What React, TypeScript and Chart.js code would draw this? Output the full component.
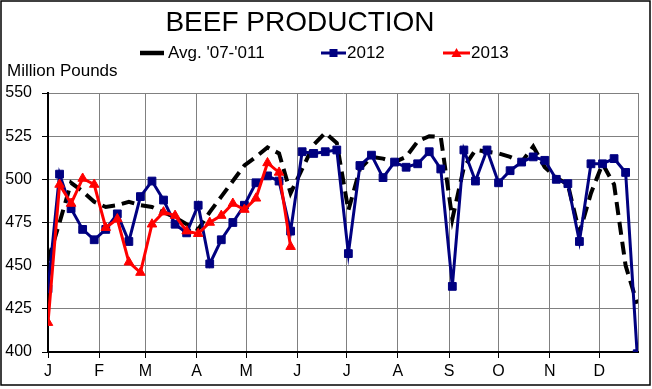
import React, { useEffect, useRef } from 'react';
import { Chart, registerables } from 'chart.js';

Chart.register(...registerables);

// ---- Data ----
const TITLE = 'BEEF PRODUCTION';
const Y_AXIS_TITLE = 'Million Pounds';
const MONTH_STARTS = [0, 31, 59, 90, 120, 151, 181, 212, 243, 273, 304, 334];
const MONTH_LABELS = ['J', 'F', 'M', 'A', 'M', 'J', 'J', 'A', 'S', 'O', 'N', 'D'];
const WEEK_DAYS = [
  0, 7, 14, 21, 28, 35, 42, 49, 56, 63, 70, 77, 84, 91, 98, 105, 112, 119, 126, 133,
  140, 147, 154, 161, 168, 175, 182, 189, 196, 203, 210, 217, 224, 231, 238, 245, 252,
  259, 266, 273, 280, 287, 294, 301, 308, 315, 322, 329, 336, 343, 350, 357,
];
const AVG_LABEL = "Avg. '07-'011";
const AVG_07_11 = [
  453, 475, 498, 493, 487, 484, 485, 487, 485, 484, 481, 478, 474, 471, 481, 490, 499,
  508, 513, 518.5, 515, 492, 506, 520, 527, 521, 482, 506, 513, 512, 510, 513, 522, 525,
  524.5, 477, 507, 517, 516, 515, 513, 510, 519, 507, 501, 497, 469, 492, 509, 497, 450, 428,
];
const LABEL_2012 = '2012';
const Y2012 = [
  436.6, 503, 483, 471, 465, 471, 480, 464, 490, 499, 488, 474, 469, 485, 451, 465, 475,
  485, 498, 502, 499, 470, 516, 515, 516, 517, 457, 508, 514, 501, 510, 507, 509, 516,
  506, 438, 517, 499, 517, 498, 505, 510, 513, 511, 500, 497.5, 464, 509, 509, 512, 504, 399,
];
const LABEL_2013 = '2013';
const Y2013 = [
  417, 497, 486, 500.5, 497, 472, 477, 452, 446, 474, 481, 479, 470, 468.5, 475, 479, 486,
  482.5, 489, 509.5, 504, 461,
];
const Y_MIN = 400;
const Y_MAX = 550;
const Y_STEP = 25;
const X_MAX = 357.5;

const FONT = "'Liberation Sans', Arial, Helvetica, sans-serif";
const NAVY = '#000080';
const RED = '#ff0000';

const toPoints = (vals: number[]) => vals.map((v, i) => ({ x: WEEK_DAYS[i], y: v }));

const headerPlugin = {
  id: 'header',
  afterDraw(chart: any) {
    const ctx = chart.ctx as CanvasRenderingContext2D;
    const ds = chart.data.datasets;
    ctx.save();
    // outer border
    ctx.strokeStyle = '#000';
    ctx.lineWidth = 1.5;
    ctx.strokeRect(1, 1, 649, 384);

    // title
    ctx.fillStyle = '#000';
    ctx.font = `28px ${FONT}`;
    ctx.textAlign = 'center';
    ctx.textBaseline = 'middle';
    ctx.fillText(TITLE, 300, 23);

    // legend
    const ly = 53;
    ctx.font = `17px ${FONT}`;
    ctx.textAlign = 'left';
    // avg
    const avg = ds.find((d: any) => d.label === AVG_LABEL);
    ctx.beginPath();
    ctx.moveTo(140, ly);
    ctx.lineTo(164, ly);
    ctx.lineWidth = 4.5;
    ctx.strokeStyle = avg.borderColor;
    ctx.stroke();
    ctx.fillStyle = '#000';
    ctx.fillText(avg.label, 168, ly);
    // 2012
    const b = ds.find((d: any) => d.label === LABEL_2012);
    ctx.beginPath();
    ctx.moveTo(321, ly);
    ctx.lineTo(346, ly);
    ctx.lineWidth = 3;
    ctx.strokeStyle = b.borderColor;
    ctx.stroke();
    ctx.fillStyle = b.borderColor;
    ctx.fillRect(333.5 - 4, ly - 4, 8, 8);
    ctx.fillStyle = '#000';
    ctx.fillText(b.label, 347, ly);
    // 2013
    const r = ds.find((d: any) => d.label === LABEL_2013);
    ctx.beginPath();
    ctx.moveTo(443, ly);
    ctx.lineTo(470, ly);
    ctx.lineWidth = 3;
    ctx.strokeStyle = r.borderColor;
    ctx.stroke();
    ctx.fillStyle = r.borderColor;
    ctx.beginPath();
    ctx.moveTo(456.5, ly - 5);
    ctx.lineTo(461.5, ly + 4);
    ctx.lineTo(451.5, ly + 4);
    ctx.closePath();
    ctx.fill();
    ctx.fillStyle = '#000';
    ctx.fillText(r.label, 471, ly);

    // y axis title
    ctx.font = `17px ${FONT}`;
    ctx.textAlign = 'left';
    ctx.fillText(Y_AXIS_TITLE, 7, 71);
    ctx.restore();
  },
};

export default function App() {
  const ref = useRef<HTMLCanvasElement>(null);

  useEffect(() => {
    if (!ref.current) return;
    const chart = new Chart(ref.current, {
      type: 'line',
      data: {
        datasets: [
          {
            label: LABEL_2013,
            data: toPoints(Y2013),
            borderColor: RED,
            backgroundColor: RED,
            borderWidth: 3,
            pointStyle: 'triangle',
            pointRadius: 5.5,
            pointBorderWidth: 1,
            pointBackgroundColor: RED,
            pointBorderColor: RED,
            tension: 0,
            order: 0,
          },
          {
            label: LABEL_2012,
            data: toPoints(Y2012),
            borderColor: NAVY,
            backgroundColor: NAVY,
            borderWidth: 3,
            pointStyle: 'rect',
            pointRadius: 5.5,
            pointBorderWidth: 1,
            pointBackgroundColor: NAVY,
            pointBorderColor: NAVY,
            tension: 0,
            order: 1,
          },
          {
            label: AVG_LABEL,
            data: toPoints(AVG_07_11),
            borderColor: '#000000',
            backgroundColor: '#000000',
            borderWidth: 4,
            borderDash: [13, 7],
            borderCapStyle: 'butt',
            pointRadius: 0,
            tension: 0,
            order: 2,
          },
        ],
      },
      options: {
        responsive: false,
        animation: false,
        events: [],
        layout: { padding: { top: 93, left: 0, right: 14, bottom: 0 } },
        plugins: {
          legend: { display: false },
          title: { display: false },
          tooltip: { enabled: false },
        },
        scales: {
          x: {
            type: 'linear',
            min: 0,
            max: X_MAX,
            afterBuildTicks: (scale: any) => {
              scale.ticks = [...MONTH_STARTS.map((v) => ({ value: v })), { value: X_MAX }];
            },
            afterFit: (scale: any) => {
              scale.height = 37;
            },
            ticks: {
              autoSkip: false,
              maxRotation: 0,
              minRotation: 0,
              color: '#000',
              padding: 4,
              font: { family: FONT, size: 16 },
              callback: (value: any) => {
                const i = MONTH_STARTS.indexOf(Number(value));
                return i >= 0 ? MONTH_LABELS[i] : '';
              },
            },
            grid: {
              color: '#808080',
              lineWidth: 1,
              tickLength: 6,
              tickColor: (c: any) => (c.tick && c.tick.value === X_MAX ? 'rgba(0,0,0,0)' : '#000'),
            },
            border: { color: '#000', width: 2 },
          },
          y: {
            min: Y_MIN,
            max: Y_MAX,
            afterFit: (scale: any) => {
              scale.width = 48;
            },
            ticks: {
              stepSize: Y_STEP,
              color: '#000',
              padding: 10,
              font: { family: FONT, size: 16 },
            },
            grid: {
              color: '#808080',
              lineWidth: 1,
              tickLength: 6,
              tickColor: '#000',
            },
            border: { color: '#000', width: 2 },
          },
        },
      },
      plugins: [headerPlugin],
    } as any);
    return () => chart.destroy();
  }, []);

  return (
    <div style={{ position: 'absolute', left: 0, top: 0, width: 652, height: 389, background: '#fff' }}>
      <canvas ref={ref} width={652} height={389} style={{ width: 652, height: 389, display: 'block' }} />
    </div>
  );
}
